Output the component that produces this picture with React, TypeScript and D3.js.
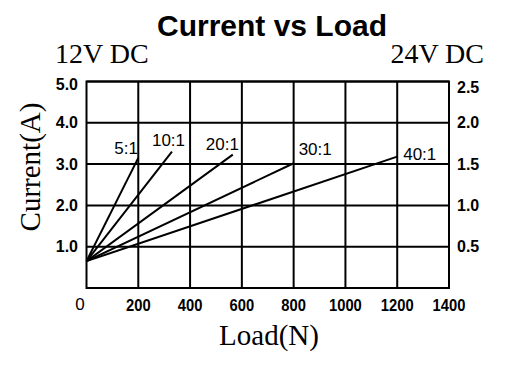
import { scaleLinear } from "d3";

const ratios = ["5:1", "10:1", "20:1", "30:1", "40:1"];
const startCurrent = 0.65;
const endLoad = [200, 330, 565, 800, 1200];
const endCurrent = [3.15, 3.3, 3.23, 3.02, 3.18];
// label offsets from the end of each line
const labelDx = [-24, -20, -27, 5, 6];
const labelDy = [-4, -6, -5, -8, 3];

const loadTicks = [200, 400, 600, 800, 1000, 1200, 1400];
const leftTicks = [1, 2, 3, 4, 5];
const rightTicks = [0.5, 1, 1.5, 2, 2.5];

const sans = "'Liberation Sans', Arial, sans-serif";
const serif = "'Liberation Serif', 'Times New Roman', serif";

export default function App() {
  const width = 531;
  const height = 371;
  const left = 86.5, right = 449, top = 81.5, bottom = 288;

  const x = scaleLinear().domain([0, 1400]).range([left, right]);
  const yL = scaleLinear().domain([0, 5]).range([bottom, top]);
  const yR = scaleLinear().domain([0, 2.5]).range([bottom, top]);

  return (
    <svg width={width} height={height} style={{ position: "absolute", left: 0, top: 0 }}>
      <rect width={width} height={height} fill="#fff" />
      <text x={272} y={36} textAnchor="middle" fontFamily={sans} fontWeight="bold" fontSize={30}>
        Current vs Load
      </text>
      <text x={55} y={63} fontFamily={serif} fontSize={28}>12V DC</text>
      <text x={484} y={63} textAnchor="end" fontFamily={serif} fontSize={28}>24V DC</text>

      {/* grid */}
      {loadTicks.map((t) => (
        <line key={"v" + t} x1={x(t)} x2={x(t)} y1={top} y2={bottom} stroke="#000" strokeWidth={2} />
      ))}
      {leftTicks.map((t) => (
        <line key={"h" + t} x1={left} x2={right} y1={yL(t)} y2={yL(t)} stroke="#000" strokeWidth={2} />
      ))}
      <rect x={left} y={top} width={right - left} height={bottom - top} fill="none" stroke="#000" strokeWidth={2} />

      {/* series */}
      {ratios.map((r, i) => {
        const ex = x(endLoad[i]);
        const ey = yL(endCurrent[i]);
        return (
          <g key={r}>
            <line x1={x(0)} y1={yL(startCurrent)} x2={ex} y2={ey} stroke="#000" strokeWidth={2} />
            <text x={ex + labelDx[i]} y={ey + labelDy[i]} fontFamily={sans} fontSize={17}>{r}</text>
          </g>
        );
      })}

      {/* axes labels */}
      {leftTicks.map((t, i) => (
        <text key={"l" + t} x={78} y={yL(t) + (i === 4 ? 3 : 0)} dy="0.35em" textAnchor="end"
          fontFamily={sans} fontWeight="bold" fontSize={16}>{t.toFixed(1)}</text>
      ))}
      {rightTicks.map((t, i) => (
        <text key={"r" + t} x={457} y={yR(t) + (i === 4 ? 6 : 0)} dy="0.35em"
          fontFamily={sans} fontWeight="bold" fontSize={16}>{t.toFixed(1)}</text>
      ))}
      {loadTicks.map((t) => (
        <text key={"b" + t} x={x(t)} y={311} textAnchor="middle"
          textLength={String(t).length * 8.2} lengthAdjust="spacingAndGlyphs"
          fontFamily={sans} fontWeight="bold" fontSize={17}>{t}</text>
      ))}
      <text x={80} y={310} textAnchor="middle" fontFamily={sans} fontSize={17}>0</text>

      <text x={269} y={345} textAnchor="middle" fontFamily={serif} fontSize={29}>Load(N)</text>
      <text transform="translate(40,167) rotate(-90)" textAnchor="middle" fontFamily={serif} fontSize={29}>
        Current(A)
      </text>
    </svg>
  );
}
